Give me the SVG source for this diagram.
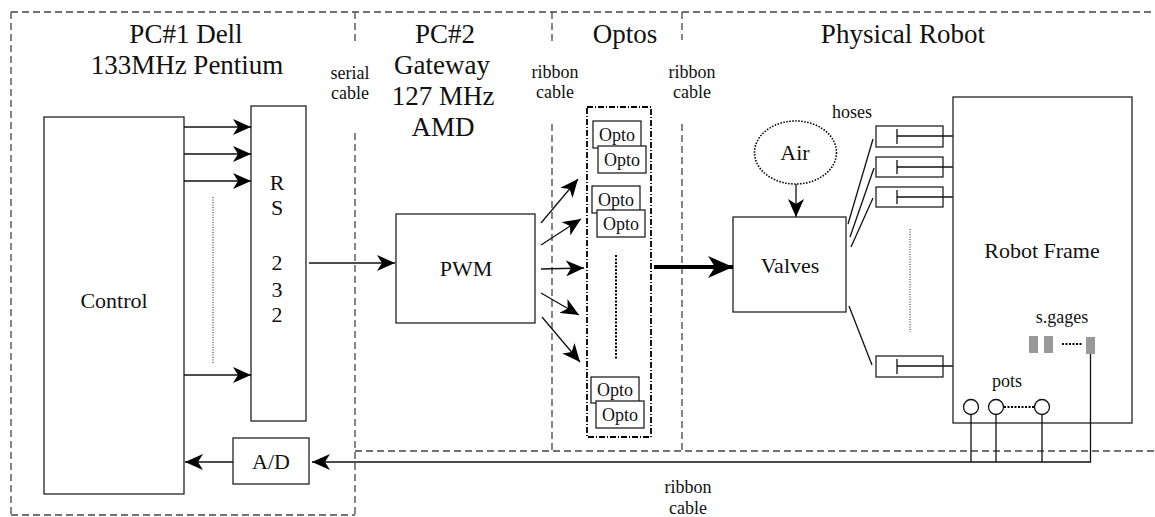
<svg xmlns="http://www.w3.org/2000/svg" width="1155" height="517" viewBox="0 0 1155 517">
<style>
  .bg { fill: #ffffff; }
  .box { fill: #ffffff; stroke: #222; stroke-width: 1.3; }
  .region { fill: none; stroke: #444; stroke-width: 1.3; stroke-dasharray: 7,4; }
  .wire { fill: none; stroke: #111; stroke-width: 1.3; }
  .thick { fill: none; stroke: #000; stroke-width: 4.2; }
  .dots { fill: none; stroke: #555; stroke-width: 1.3; stroke-dasharray: 1,1.5; }
  .dotsk { fill: none; stroke: #000; stroke-width: 2; stroke-dasharray: 2,1.5; }
  .gage { fill: #999; stroke: none; }
  .title { font-size: 27px; }
  .lbl { font-size: 22px; }
  .small { font-size: 18px; }
  .opto { font-size: 18px; }
</style>
<defs>
  <marker id="ah" markerUnits="userSpaceOnUse" viewBox="0 0 18 16" markerWidth="18" markerHeight="16" refX="18" refY="8" orient="auto">
    <path d="M0,0 L18,8 L0,16 L5,8 Z" fill="#000"/>
  </marker>
  <marker id="ahBig" markerUnits="userSpaceOnUse" viewBox="0 0 25 22" markerWidth="25" markerHeight="22" refX="25" refY="11" orient="auto">
    <path d="M0,0 L25,11 L0,22 L7,11 Z" fill="#000"/>
  </marker>
</defs>
<rect class="bg" x="0" y="0" width="1155" height="517"/>

<g id="regions">
  <line class="region" x1="11" y1="12" x2="1155" y2="12"/>
  <line class="region" x1="11" y1="12" x2="11" y2="515"/>
  <line class="region" x1="11" y1="515" x2="355" y2="515"/>
  <line class="region" x1="355" y1="12" x2="355" y2="45"/>
  <line class="region" x1="355" y1="133" x2="355" y2="515"/>
  <line class="region" x1="355" y1="451" x2="1155" y2="451"/>
  <line class="region" x1="552" y1="12" x2="552" y2="45"/>
  <line class="region" x1="552" y1="124" x2="552" y2="451"/>
  <line class="region" x1="682" y1="12" x2="682" y2="40"/>
  <line class="region" x1="682" y1="124" x2="682" y2="451"/>
</g>

<g font-family="Liberation Serif, Times New Roman, serif" fill="#111" text-anchor="middle">
<g id="titles">
  <text class="title" x="186" y="43">PC#1 Dell</text>
  <text class="title" x="187" y="74">133MHz Pentium</text>
  <text class="title" x="445" y="43">PC#2</text>
  <text class="title" x="442" y="74">Gateway</text>
  <text class="title" x="443" y="105">127 MHz</text>
  <text class="title" x="443" y="136">AMD</text>
  <text class="title" x="625" y="43">Optos</text>
  <text class="title" x="903" y="43">Physical Robot</text>
  <text class="small" x="350" y="79">serial</text>
  <text class="small" x="350" y="99">cable</text>
  <text class="small" x="555" y="78">ribbon</text>
  <text class="small" x="555" y="98">cable</text>
  <text class="small" x="692" y="78">ribbon</text>
  <text class="small" x="692" y="98">cable</text>
  <text class="small" x="852" y="118">hoses</text>
  <text class="small" x="688" y="493">ribbon</text>
  <text class="small" x="688" y="514">cable</text>
</g>

<g id="control">
  <rect class="box" x="44" y="117" width="140" height="377"/>
  <text class="lbl" x="114" y="308">Control</text>
</g>

<g id="rs232">
  <rect class="box" x="251" y="106" width="55" height="315"/>
  <text class="lbl" x="277" y="190">R</text>
  <text class="lbl" x="277" y="215">S</text>
  <text class="lbl" x="277" y="270">2</text>
  <text class="lbl" x="277" y="297">3</text>
  <text class="lbl" x="277" y="322">2</text>
</g>

<g id="pwm">
  <rect class="box" x="396" y="214" width="139" height="109"/>
  <text class="lbl" x="466" y="276">PWM</text>
</g>

<g id="optos">
  <rect x="587" y="107" width="64" height="330" fill="none" stroke="#000" stroke-width="1.8" stroke-dasharray="6,2,1,2"/>
  <rect class="box" x="593" y="121" width="48" height="27"/>
  <text class="opto" x="617" y="141">Opto</text>
  <rect class="box" x="598" y="146" width="48" height="27"/>
  <text class="opto" x="622" y="166">Opto</text>
  <rect class="box" x="592" y="186" width="48" height="27"/>
  <text class="opto" x="616" y="206">Opto</text>
  <rect class="box" x="597" y="210" width="48" height="27"/>
  <text class="opto" x="621" y="230">Opto</text>
  <line class="dotsk" x1="616" y1="255" x2="616" y2="359" stroke-width="1.5"/>
  <rect class="box" x="591" y="377" width="48" height="26"/>
  <text class="opto" x="615" y="396">Opto</text>
  <rect class="box" x="596" y="401" width="48" height="27"/>
  <text class="opto" x="620" y="421">Opto</text>
</g>

<g id="air">
  <ellipse cx="795.5" cy="152.5" rx="41" ry="31.5" fill="none" stroke="#000" stroke-width="1.6" stroke-dasharray="1.5,1.5"/>
  <text class="lbl" x="795" y="160">Air</text>
</g>

<g id="valves">
  <rect class="box" x="733" y="217" width="113" height="95"/>
  <text class="lbl" x="790" y="273">Valves</text>
</g>

<g id="cylinders">
  <rect class="box" x="876" y="126" width="67" height="21"/>
  <line class="wire" x1="897" y1="129" x2="897" y2="144"/>
  <line class="wire" x1="897" y1="136" x2="955" y2="136"/>
  <rect class="box" x="876" y="157" width="67" height="20"/>
  <line class="wire" x1="897" y1="160" x2="897" y2="174"/>
  <line class="wire" x1="897" y1="167" x2="955" y2="167"/>
  <rect class="box" x="876" y="187" width="67" height="20"/>
  <line class="wire" x1="897" y1="190" x2="897" y2="204"/>
  <line class="wire" x1="897" y1="197" x2="955" y2="197"/>
  <line class="dots" x1="910" y1="229" x2="910" y2="332"/>
  <rect class="box" x="876" y="356" width="67" height="21"/>
  <line class="wire" x1="897" y1="359" x2="897" y2="374"/>
  <line class="wire" x1="897" y1="366" x2="955" y2="366"/>
</g>

<g id="robot-frame">
  <rect class="box" x="953" y="97" width="179" height="326" fill="none"/>
  <text class="lbl" x="1042" y="258">Robot Frame</text>
  <text class="small" x="1062" y="323">s.gages</text>
  <rect class="gage" x="1029" y="336" width="9" height="17"/>
  <rect class="gage" x="1044" y="336" width="9" height="17"/>
  <line class="dotsk" x1="1062" y1="344" x2="1082" y2="344"/>
  <rect class="gage" x="1086" y="337" width="9" height="17"/>
  <text class="small" x="1007" y="387">pots</text>
  <circle cx="971" cy="407" r="7.5" fill="none" stroke="#111" stroke-width="1.3"/>
  <circle cx="996" cy="407" r="7.5" fill="none" stroke="#111" stroke-width="1.3"/>
  <line class="dotsk" x1="1004" y1="407" x2="1034" y2="407"/>
  <circle cx="1042" cy="407" r="7.5" fill="none" stroke="#111" stroke-width="1.3"/>
</g>

<g id="ad">
  <rect class="box" x="233" y="438" width="76" height="46"/>
  <text class="lbl" x="271" y="469">A/D</text>
</g>
</g>

<g id="connectors">
  <line class="wire" x1="184" y1="127" x2="251" y2="127" marker-end="url(#ah)"/>
  <line class="wire" x1="184" y1="154" x2="251" y2="154" marker-end="url(#ah)"/>
  <line class="wire" x1="184" y1="181" x2="251" y2="181" marker-end="url(#ah)"/>
  <line class="wire" x1="184" y1="375" x2="251" y2="375" marker-end="url(#ah)"/>
  <line class="dots" x1="213" y1="197" x2="213" y2="363"/>
  <line class="wire" x1="309" y1="263" x2="395" y2="263" marker-end="url(#ah)"/>
  <line class="wire" x1="541" y1="223" x2="578" y2="179" marker-end="url(#ah)"/>
  <line class="wire" x1="541" y1="245" x2="581" y2="219" marker-end="url(#ah)"/>
  <line class="wire" x1="541" y1="269" x2="584" y2="268" marker-end="url(#ah)"/>
  <line class="wire" x1="541" y1="293" x2="579" y2="315" marker-end="url(#ah)"/>
  <line class="wire" x1="542" y1="317" x2="580" y2="362" marker-end="url(#ah)"/>
  <line class="thick" x1="654" y1="267" x2="733" y2="267" marker-end="url(#ahBig)"/>
  <line class="wire" x1="796" y1="184" x2="796" y2="217" marker-end="url(#ah)"/>
  <line class="wire" x1="848" y1="224" x2="873" y2="139"/>
  <line class="wire" x1="850" y1="237" x2="874" y2="168"/>
  <line class="wire" x1="851" y1="247" x2="873" y2="198"/>
  <line class="wire" x1="849" y1="306" x2="872" y2="365"/>
  <polyline class="wire" points="1090.5,354 1090.5,462 312,462" marker-end="url(#ah)"/>
  <line class="wire" x1="971" y1="414.5" x2="971" y2="462"/>
  <line class="wire" x1="996" y1="414.5" x2="996" y2="462"/>
  <line class="wire" x1="1042" y1="414.5" x2="1042" y2="462"/>
  <line class="wire" x1="233" y1="462" x2="185" y2="462" marker-end="url(#ah)"/>
</g>
</svg>
